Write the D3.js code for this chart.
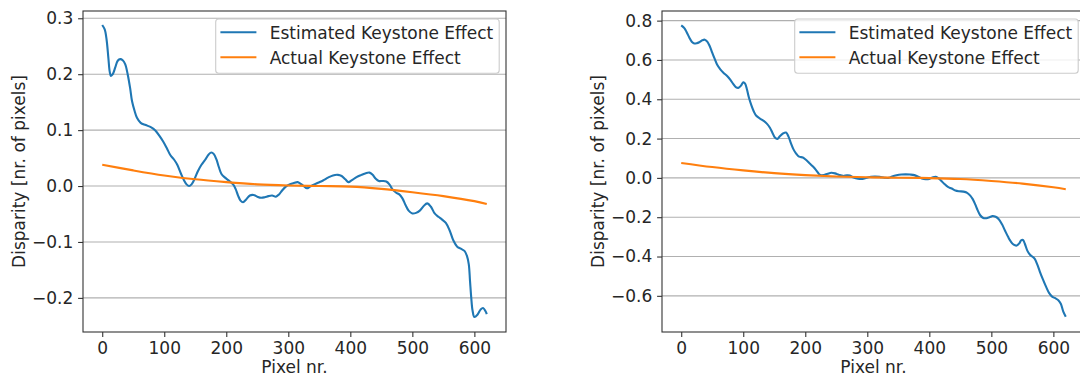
<!DOCTYPE html>
<html>
<head>
<meta charset="utf-8">
<script src="https://cdn.jsdelivr.net/npm/d3@7"></script>
<style>
  html, body { margin: 0; padding: 0; background: #fff; }
  svg { display: block; }
  text { font-family: "DejaVu Sans", sans-serif; fill: #262626; }
</style>
</head>
<body>
<svg id="chart" width="1080" height="378"></svg>
<script>
// ---------------- DATA ----------------
const seriesNames = ["Estimated Keystone Effect", "Actual Keystone Effect"];
const xTicks = [0, 100, 200, 300, 400, 500, 600];
const leftYTicks = [-0.2, -0.1, 0.0, 0.1, 0.2, 0.3];
const rightYTicks = [-0.6, -0.4, -0.2, 0.0, 0.2, 0.4, 0.6, 0.8];
const xLabel = "Pixel nr.";
const yLabel = "Disparity [nr. of pixels]";

// Left panel, estimated (pixel, disparity)
const leftEstX = [0,4,7,10,12,14,17,21,25,29,33,37,41,45,48,52,56,62,70,79,86,92,98,104,110,116,121,127,132,136,140,144,149,154,160,166,172,176,180,184,188,192,198,205,211,215,219,223,227,232,238,244,250,256,262,268,274,280,285,290,296,302,308,315,320,325,330,335,340,348,356,364,372,380,386,392,397,402,410,418,425,431,436,441,446,452,458,463,468,474,479,484,489,494,500,506,512,518,524,530,536,542,548,554,560,566,572,578,584,588,591,593,595,597,600,605,610,614,618,620];
const leftEstY = [0.288,0.280,0.262,0.228,0.205,0.197,0.200,0.212,0.224,0.227,0.225,0.218,0.200,0.175,0.152,0.135,0.122,0.113,0.109,0.105,0.099,0.090,0.080,0.068,0.055,0.047,0.038,0.022,0.010,0.003,0.000,0.003,0.013,0.026,0.038,0.047,0.057,0.060,0.057,0.048,0.034,0.022,0.015,0.009,0.003,-0.005,-0.017,-0.026,-0.029,-0.024,-0.017,-0.016,-0.019,-0.021,-0.020,-0.018,-0.017,-0.019,-0.015,-0.008,-0.001,0.003,0.005,0.007,0.004,0.000,-0.004,-0.001,0.002,0.006,0.010,0.015,0.019,0.020,0.018,0.012,0.007,0.010,0.016,0.020,0.023,0.024,0.020,0.013,0.009,0.009,0.008,0.003,-0.006,-0.012,-0.015,-0.022,-0.034,-0.044,-0.049,-0.048,-0.044,-0.036,-0.031,-0.037,-0.049,-0.055,-0.060,-0.066,-0.079,-0.097,-0.108,-0.112,-0.116,-0.125,-0.140,-0.170,-0.200,-0.222,-0.234,-0.230,-0.221,-0.218,-0.224,-0.229];

// Left panel, actual
const leftActX = [0,50,100,150,200,250,300,350,400,450,500,550,600,620];
const leftActY = [0.038,0.028,0.019,0.012,0.007,0.003,0.001,0.000,-0.001,-0.005,-0.011,-0.018,-0.027,-0.032];

// Right panel, estimated
const rightEstX = [0,5,9,13,17,21,25,29,34,38,42,46,50,54,58,63,68,74,79,84,88,92,96,100,103,106,109,113,117,121,127,133,138,143,147,151,155,159,164,169,173,177,181,185,190,196,201,206,211,215,219,222,226,230,236,242,248,254,261,267,272,278,285,292,299,306,313,320,328,334,340,347,355,362,369,376,382,388,394,400,405,410,414,419,424,430,436,442,448,455,461,466,470,474,478,482,487,492,497,502,507,512,517,522,527,531,536,541,545,548,551,554,558,562,566,570,574,578,583,588,593,598,603,608,612,616,620];
const rightEstY = [0.776,0.762,0.740,0.714,0.693,0.684,0.685,0.690,0.700,0.703,0.693,0.670,0.637,0.605,0.575,0.552,0.535,0.518,0.500,0.477,0.462,0.458,0.468,0.486,0.480,0.450,0.410,0.370,0.338,0.316,0.302,0.290,0.276,0.255,0.230,0.205,0.198,0.212,0.226,0.231,0.210,0.175,0.145,0.125,0.108,0.104,0.092,0.077,0.062,0.049,0.033,0.020,0.013,0.015,0.021,0.026,0.023,0.016,0.010,0.013,0.012,0.002,-0.004,-0.005,0.001,0.006,0.007,0.005,0.001,0.000,0.007,0.013,0.017,0.018,0.017,0.014,0.006,-0.003,-0.007,-0.005,0.002,0.006,0.000,-0.014,-0.030,-0.046,-0.054,-0.064,-0.068,-0.070,-0.076,-0.090,-0.108,-0.135,-0.165,-0.190,-0.204,-0.205,-0.200,-0.194,-0.198,-0.210,-0.235,-0.268,-0.300,-0.322,-0.340,-0.344,-0.333,-0.318,-0.316,-0.335,-0.370,-0.390,-0.400,-0.412,-0.440,-0.475,-0.515,-0.552,-0.585,-0.604,-0.612,-0.622,-0.640,-0.680,-0.706];

// Right panel, actual
const rightActX = [0,50,100,150,200,250,300,350,400,450,500,550,600,620];
const rightActY = [0.076,0.055,0.038,0.024,0.014,0.007,0.003,0.001,-0.001,-0.006,-0.016,-0.029,-0.048,-0.058];

const colors = ["#1f77b4", "#ff7f0e"];

// ---------------- DRAW ----------------
const svg = d3.select("#chart");
const FS = 17;
const plotTop = 11, plotBottom = 332;

function panel(cfg) {
  const x = d3.scaleLinear().domain([-31, 651]).range([cfg.left, cfg.right]);
  const y = d3.scaleLinear().domain(cfg.yDomain).range([plotBottom, plotTop]);
  const g = svg.append("g");

  // grid (horizontal only)
  g.append("g").selectAll("line").data(cfg.yTicks).join("line")
    .attr("x1", cfg.left).attr("x2", cfg.right)
    .attr("y1", d => y(d)).attr("y2", d => y(d))
    .attr("stroke", "#b0b0b0").attr("stroke-width", 1.1);

  // lines
  const line = d3.line().x(d => x(d[0])).y(d => y(d[1])).curve(d3.curveCatmullRom.alpha(0.5));
  const est = cfg.estX.map((v, i) => [v, cfg.estY[i]]);
  const act = cfg.actX.map((v, i) => [v, cfg.actY[i]]);
  g.append("path").datum(est).attr("d", line).attr("fill", "none")
    .attr("stroke", colors[0]).attr("stroke-width", 2.1).attr("stroke-linejoin", "round");
  g.append("path").datum(act).attr("d", line).attr("fill", "none")
    .attr("stroke", colors[1]).attr("stroke-width", 2.1).attr("stroke-linejoin", "round");

  // axes
  const xAxis = d3.axisBottom(x).tickValues(xTicks).tickFormat(d3.format("d"))
    .tickSize(4.9).tickPadding(4.9);
  const yAxis = d3.axisLeft(y).tickValues(cfg.yTicks).tickFormat(d3.format(".1f"))
    .tickSize(4.9).tickPadding(4.9);
  const xa = g.append("g").attr("transform", `translate(0,${plotBottom})`).call(xAxis);
  const ya = g.append("g").attr("transform", `translate(${cfg.left},0)`).call(yAxis);
  [xa, ya].forEach(a => {
    a.select(".domain").remove();
    a.selectAll(".tick line").attr("stroke", "#333").attr("stroke-width", 1.1);
    a.selectAll(".tick text").attr("fill", "#262626")
      .style("font-size", FS + "px").style("font-family", "DejaVu Sans");
  });

  // spines
  g.append("rect").attr("x", cfg.left).attr("y", plotTop)
    .attr("width", cfg.right - cfg.left).attr("height", plotBottom - plotTop)
    .attr("fill", "none").attr("stroke", "#333").attr("stroke-width", 1.1);

  // labels
  g.append("text").attr("x", (cfg.left + cfg.right) / 2).attr("y", 373)
    .attr("text-anchor", "middle").style("font-size", FS + "px").text(xLabel);
  g.append("text")
    .attr("transform", `translate(${cfg.left - 58.5},${(plotTop + plotBottom) / 2}) rotate(-90)`)
    .attr("text-anchor", "middle").style("font-size", FS + "px").text(yLabel);

  // legend
  const lw = 283.5, lh = 54.3;
  const lx = cfg.right - 6.8 - lw, ly = 19;
  const lg = g.append("g");
  lg.append("rect").attr("x", lx).attr("y", ly).attr("width", lw).attr("height", lh)
    .attr("rx", 3).attr("fill", "white").attr("fill-opacity", 0.8)
    .attr("stroke", "#cccccc").attr("stroke-width", 1.1);
  seriesNames.forEach((name, i) => {
    const cy = ly + 13.3 + i * 25;
    lg.append("line").attr("x1", lx + 4.7).attr("x2", lx + 40.7)
      .attr("y1", cy).attr("y2", cy).attr("stroke", colors[i]).attr("stroke-width", 2.1);
    lg.append("text").attr("x", lx + 54).attr("y", cy + 6.2)
      .style("font-size", FS + "px").text(name);
  });
}

panel({ left: 83, right: 506, yDomain: [-0.261, 0.313], yTicks: leftYTicks,
        estX: leftEstX, estY: leftEstY, actX: leftActX, actY: leftActY });
panel({ left: 662, right: 1085, yDomain: [-0.784, 0.849], yTicks: rightYTicks,
        estX: rightEstX, estY: rightEstY, actX: rightActX, actY: rightActY });
</script>
</body>
</html>
